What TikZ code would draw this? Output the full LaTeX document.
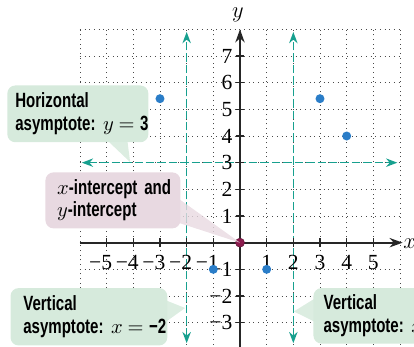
\documentclass[tikz,border=0pt]{standalone}
\usepackage{fontspec}
\setmainfont{Liberation Serif}
\newfontfamily\callfont[UprightFont={* Bold}, FakeStretch=0.73]{Liberation Sans}
\usetikzlibrary{arrows.meta}
\definecolor{GRID}{HTML}{4A4A4A}
\definecolor{ASYM}{HTML}{17A08F}
\definecolor{DOT}{HTML}{2A7DC8}
\definecolor{ORIG}{HTML}{8C1C4E}
\definecolor{MINT}{HTML}{D6EADC}
\definecolor{ROSE}{HTML}{E8D9E1}

\newcommand{\eqpart}[2]{\hspace{4pt}$#1$\hspace{2.5pt}$=$\hspace{3pt}#2}

\begin{document}
\begin{tikzpicture}[
    x=0.5cm, y=0.5cm,
    gridline/.style={GRID, dotted, line width=0.5pt},
    axis/.style={black!85, line width=0.9pt, -{Stealth[length=7pt, width=5pt]}},
    axistick/.style={black!85, line width=0.8pt},
    asym/.style={ASYM, line width=0.8pt, dash pattern=on 4.5pt off 1.6pt,
      {Stealth[length=6pt, width=4.5pt]}-{Stealth[length=6pt, width=4.5pt]}},
    num/.style={font=\fontsize{11.5}{13}\selectfont, inner sep=0pt},
    axlabel/.style={font=\large, inner sep=0pt},
    pt/.style={circle, fill=DOT, minimum size=4.8pt, inner sep=0pt},
    callout/.style={rounded corners=4.3pt, align=left, anchor=north west,
      font=\callfont\fontsize{11}{12}\selectfont, inner ysep=0pt},
  ]

  \useasboundingbox (-9,-3.88) rectangle (6.525,9.1);

  % --- grid ---
  \foreach \i in {-6,...,6} {
    \draw[gridline] (\i,-4) -- (\i,8);
  }
  \foreach \j in {-4,...,8} {
    \draw[gridline] (-6,\j) -- (6,\j);
  }

  % --- asymptotes ---
  \draw[asym] (-2,-3.77) -- (-2,7.9);
  \draw[asym] (2,-3.77) -- (2,7.9);
  \draw[asym] (-5.93,3) -- (5.9,3);

  % --- axes ---
  \draw[axis] (-6,0) -- (6.1,0);
  \draw[axis] (0,-4) -- (0,8);
  \node[axlabel] (xlab) at (6.36,-0.05) {$x$};
  \node[axlabel] (ylab) at (-0.08,8.56) {$y$};

  \foreach \i in {-5,...,-1,1,2,...,5} {
    \draw[axistick] (\i,-0.16) -- (\i,0.16);
    \node[num] at (\i,-0.74)
      {\ifnum\i<0 \llap{−}\the\numexpr-\i\relax\else\i\fi};
  }
  \foreach \j in {-3,...,-1,1,2,...,7} {
    \draw[axistick] (-0.16,\j) -- (0.16,\j);
    \node[num, anchor=east] at (-0.27,\j)
      {\ifnum\j<0 −\the\numexpr-\j\relax\else\j\fi};
  }

  % --- points on the graph ---
  \node[pt] (pa) at (-3,5.4) {};
  \node[pt] (pb) at (3,5.4) {};
  \node[pt] (pc) at (4,4) {};
  \node[pt] (pd) at (-1,-1) {};
  \node[pt] (pe) at (1,-1) {};
  \node[pt, fill=ORIG, draw=ORIG!70!black, line width=0.3pt] (orig) at (0,0) {};

  % --- callouts ---
  \node[callout, fill=MINT, inner xsep=0.15cm, text width=2.345cm, minimum height=1.065cm]
    (hzbox) at (-8.74,5.91) {Horizontal\\\mbox{asymptote:\eqpart{y}{3}}};
  \coordinate (hztip) at (-4.12,3.02);
  \fill[MINT, fill opacity=0.85] ([xshift=-0.77cm, yshift=1pt]hzbox.south east)
    -- (hztip) -- ([xshift=-0.4cm, yshift=1pt]hzbox.south east) -- cycle;

  \node[callout, fill=ROSE, inner xsep=0.22cm, text width=2.09cm, minimum height=1.05cm]
    (icbox) at (-7.31,2.65) {\mbox{$x$-intercept and}\\\mbox{$y$-intercept}};
  \fill[ROSE, fill opacity=0.8] ([xshift=-1pt, yshift=0.56cm]icbox.south east)
    -- (orig.center) -- ([xshift=-1pt, yshift=0.11cm]icbox.south east) -- cycle;

  \node[callout, fill=MINT, inner xsep=0.24cm, text width=2.46cm, minimum height=1.075cm]
    (vlbox) at (-8.62,-1.69) {Vertical\\\mbox{asymptote:\eqpart{x}{−2}}};
  \coordinate (vltip) at (-2.06,-2.45);
  \fill[MINT, fill opacity=0.85] ([xshift=-1pt, yshift=-0.235cm]vlbox.north east)
    -- (vltip) -- ([xshift=-1pt, yshift=-0.64cm]vlbox.north east) -- cycle;

  \node[callout, fill=MINT, inner xsep=0.19cm, text width=2.6cm, minimum height=1.04cm]
    (vrbox) at (2.74,-1.69) {Vertical\\\mbox{asymptote:\eqpart{x}{2}}};
  \coordinate (vrtip) at (2.02,-2.58);
  \fill[MINT, fill opacity=0.85] ([xshift=1pt, yshift=-0.2cm]vrbox.north west)
    -- (vrtip) -- ([xshift=1pt, yshift=-0.64cm]vrbox.north west) -- cycle;

\end{tikzpicture}
\end{document}
